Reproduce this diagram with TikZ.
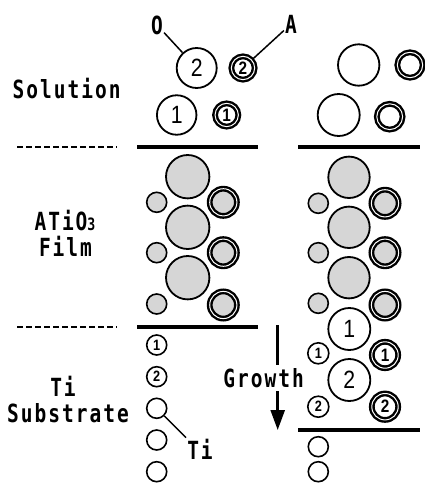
\documentclass[tikz,border=0pt]{standalone}
\usepackage{fontspec}
\usetikzlibrary{arrows.meta}
\newfontfamily\labfont[FakeStretch=0.78,LetterSpace=8]{DejaVu Sans Mono}
\newfontfamily\digfont[FakeStretch=0.85]{Liberation Sans}
\definecolor{filmgray}{RGB}{214,214,214}
\begin{document}
\begin{tikzpicture}[x=1pt,y=-1pt,
  lab/.style={font=\labfont\bfseries\fontsize{25}{26}\selectfont, inner sep=1pt, align=center},
  bigc/.style={circle, draw, line width=1.8pt, inner sep=0pt, font=\digfont\fontsize{25}{25}\selectfont},
  smc/.style={circle, draw, line width=1.6pt, inner sep=0pt, minimum size=20pt, font=\digfont\bfseries\fontsize{15}{15}\selectfont},
  ringc/.style={circle, draw, line width=2.4pt, double=white, double distance=1pt, inner sep=0pt, font=\digfont\bfseries\fontsize{18}{18}\selectfont},
  film/.style={fill=filmgray},
  bar/.style={line width=4pt},
  dashline/.style={line width=1.8pt, dash pattern=on 6pt off 3pt},
  lead/.style={line width=1.5pt}
]
\useasboundingbox (0,0) rectangle (424,484);

% side labels
\node[lab] (solution) at (66.7,89) {Solution};
\node[lab] (atio) at (65,221) {ATiO{\fontsize{17}{17}\selectfont 3}};
\node[lab] (filmlab) at (65.5,246) {Film};
\node[lab] (tilab) at (63,386.7) {Ti};
\node[lab] (substrate) at (68,413) {Substrate};

% dashed and solid boundaries
\draw[dashline] (17,147) -- (117,147);
\draw[dashline] (17,327) -- (117,327);
\draw[bar] (137,147) -- (258,147);
\draw[bar] (298,147) -- (420,147);
\draw[bar] (137,327) -- (258,327);
\draw[bar] (298,430) -- (420,430);

% solution, left
\node[bigc, minimum size=40pt] (O2) at (196.7,68) {2};
\node[ringc, minimum size=23.3pt] (A2) at (243,68) {2};
\node[bigc, minimum size=39.5pt] (O1) at (176.7,115) {1};
\node[ringc, minimum size=23.3pt] (A1) at (226.7,115) {1};
\node[lab] (lblO) at (157,25) {O};
\node[lab] (lblA) at (291,24) {A};
\draw[lead] (lblO) -- (O2);
\draw[lead] (lblA) -- (A2);

% solution, right
\node[bigc, minimum size=41.4pt] (rO2) at (358.7,65) {};
\node[ringc, minimum size=25.4pt] (rA2) at (410,65) {};
\node[bigc, minimum size=42pt] (rO1) at (338.7,115) {};
\node[ringc, minimum size=25.8pt] (rA1) at (389.7,116.7) {};

% film, left
\foreach \i/\yb/\ys/\yr in {1/176.7/202.3/202.3, 2/227.3/252.7/252.7, 3/277.7/304/305}{
  \node[bigc, film, minimum size=43.4pt] (lb\i) at (187.7,\yb) {};
  \node[smc, film] (ls\i) at (156.7,\ys) {};
  \node[ringc, film, minimum size=27.2pt] (lr\i) at (223.3,\yr) {};
}

% film, right
\foreach \i/\yb/\ys/\yr in {1/177.3/203.3/203.3, 2/227.3/252.7/252.7, 3/277.7/303.3/305}{
  \node[bigc, film, minimum size=41.4pt] (rb\i) at (349,\yb) {};
  \node[smc, film] (rs\i) at (318.3,\ys) {};
  \node[ringc, film, minimum size=27.2pt] (rr\i) at (385,\yr) {};
}

% new film layer, right
\node[bigc, fill=white, minimum size=42pt] (nb1) at (349.3,329) {1};
\node[smc, fill=white, minimum size=21pt] (ns1) at (318.3,353.3) {1};
\node[ringc, fill=white, minimum size=26.4pt] (nr1) at (385,355) {1};
\node[bigc, fill=white, minimum size=42pt] (nb2) at (349.3,380) {2};
\node[smc, fill=white, minimum size=21pt] (ns2) at (318.3,406.7) {2};
\node[ringc, fill=white, minimum size=26.4pt] (nr2) at (385,406.7) {2};
\node[smc] (rt1) at (318.3,446.7) {};
\node[smc] (rt2) at (318.3,471.7) {};

% substrate, left
\node[smc] (t1) at (156.7,345) {1};
\node[smc] (t2) at (156.7,376.7) {2};
\node[smc] (t3) at (156.7,408.3) {};
\node[smc] (t4) at (156.7,440) {};
\node[smc] (t5) at (156.7,471.7) {};
\node[lab] (lblTi) at (200,449) {Ti};
\draw[lead] (t3) -- (lblTi.north west);

% growth arrow
\node[lab, inner ysep=3pt] (growth) at (263.7,378.3) {Growth};
\coordinate (gtop) at (277.7,325);
\coordinate (gbot) at (277.7,430);
\draw[line width=2.5pt] (gtop) -- (gtop |- growth.north);
\draw[line width=2.5pt, -{Triangle[length=20pt,width=14pt]}] (gbot |- growth.south) -- (gbot);
\end{tikzpicture}
\end{document}
